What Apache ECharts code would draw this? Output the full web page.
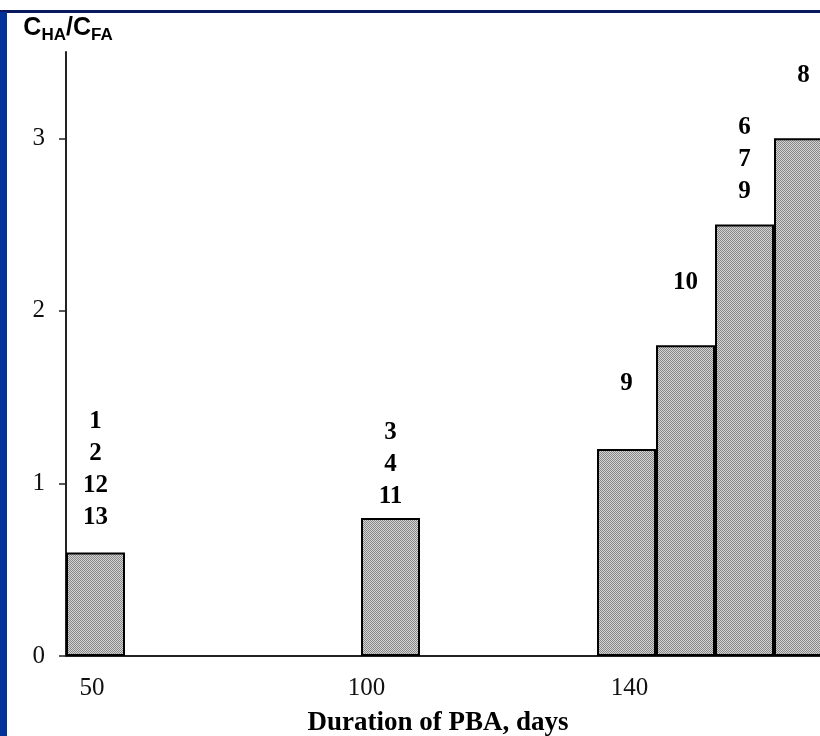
<!DOCTYPE html>
<html>
<head>
<meta charset="utf-8">
<script src="https://cdn.jsdelivr.net/npm/echarts@6/dist/echarts.min.js"></script>
<style>
html,body{margin:0;padding:0;background:#fff;}
#chart{width:820px;height:736px;}
</style>
</head>
<body>
<div id="chart"></div>
<script>
// ---- data ----
const categories = ['50', '', '', '', '', '100', '', '', '', '140', '', '', ''];
const ratioValues = [0.6, '-', '-', '-', '-', 0.8, '-', '-', '-', 1.2, 1.8, 2.5, 3.0];
const sampleNumbers = [
  ['1', '2', '12', '13'], [], [], [], [],
  ['3', '4', '11'], [], [], [],
  ['9'], ['10'], ['6', '7', '9'], ['8']
];
const yTicks = [0, 1, 2, 3];

// ---- styling helpers (not data) ----
const labelGap = [18.5, 0, 0, 0, 0, 5.5, 0, 0, 0, 49.5, 46.5, 17.5, 46.5];
const labelShift = {'50': [0, 7, 0, 0], '100': [0, 48, 0, 0], '140': [0, 0, 0, 6]};

function makePattern() {
  const c = document.createElement('canvas');
  c.width = 2; c.height = 2;
  const g = c.getContext('2d');
  g.fillStyle = '#d4d4d4';
  g.fillRect(0, 0, 2, 2);
  g.fillStyle = '#878787';
  g.fillRect(0, 0, 1, 1);
  g.fillRect(1, 1, 1, 1);
  return c;
}
const pattern = {image: makePattern(), repeat: 'repeat'};

const serif = '"Liberation Serif", "Times New Roman", serif';
const sans = '"Liberation Sans", Arial, sans-serif';

const chart = echarts.init(document.getElementById('chart'), null, {renderer: 'canvas'});

const seriesData = ratioValues.map(function (v, i) {
  const item = {value: v};
  if (sampleNumbers[i].length) {
    item.label = {
      show: true,
      position: 'top',
      distance: labelGap[i],
      formatter: sampleNumbers[i].join('\n')
    };
  }
  return item;
});

chart.setOption({
  animation: false,
  backgroundColor: '#fff',
  grid: {left: 66, top: 52, width: 767, height: 604, containLabel: false, outerBoundsMode: 'none'},
  xAxis: {
    type: 'category',
    data: categories.map(function (c) {
      return c ? {value: c, textStyle: {padding: labelShift[c]}} : c;
    }),
    boundaryGap: true,
    axisLine: {show: true, lineStyle: {color: '#222', width: 2}},
    axisTick: {show: false},
    axisLabel: {
      interval: 0, margin: 20,
      fontFamily: serif, fontSize: 25, color: '#111'
    },
    splitLine: {show: false}
  },
  yAxis: {
    type: 'value',
    min: 0, max: 3.5, interval: 1,
    name: '{c|C}{s|HA}{c|/C}{s|FA}',
    nameLocation: 'end',
    nameGap: 11,
    nameTextStyle: {
      align: 'center',
      padding: [0, 0, 0, 4],
      rich: {
        c: {fontFamily: sans, fontWeight: 'bold', fontSize: 25, lineHeight: 28, verticalAlign: 'bottom', color: '#000'},
        s: {fontFamily: sans, fontWeight: 'bold', fontSize: 17, lineHeight: 17, verticalAlign: 'bottom', color: '#000', padding: [0, 0, -3, 0]}
      }
    },
    axisLine: {show: true, lineStyle: {color: '#222', width: 2}},
    axisTick: {show: true, length: 7, inside: false, lineStyle: {color: '#222', width: 1.5}, customValues: yTicks},
    axisLabel: {
      customValues: yTicks,
      margin: 21,
      fontFamily: serif, fontSize: 25, color: '#111'
    },
    splitLine: {show: false}
  },
  series: [{
    type: 'bar',
    data: seriesData,
    barWidth: '100%',
    barGap: '0%',
    itemStyle: {color: pattern, borderColor: '#000', borderWidth: 2},
    label: {
      fontFamily: serif, fontWeight: 'bold', fontSize: 25, lineHeight: 32, color: '#000', align: 'center'
    },
    clip: false
  }],
  graphic: [
    {type: 'rect', shape: {x: 0, y: 10, width: 820, height: 3}, style: {fill: '#0b1a5e'}, z: 100},
    {type: 'rect', shape: {x: 0, y: 12, width: 7, height: 724}, style: {fill: '#003399'}, z: 100},
    {
      type: 'text', x: 438, y: 723,
      style: {text: 'Duration of PBA, days', font: 'bold 27px ' + serif, fill: '#000', textAlign: 'center', textVerticalAlign: 'middle'}
    }
  ]
});
</script>
</body>
</html>
